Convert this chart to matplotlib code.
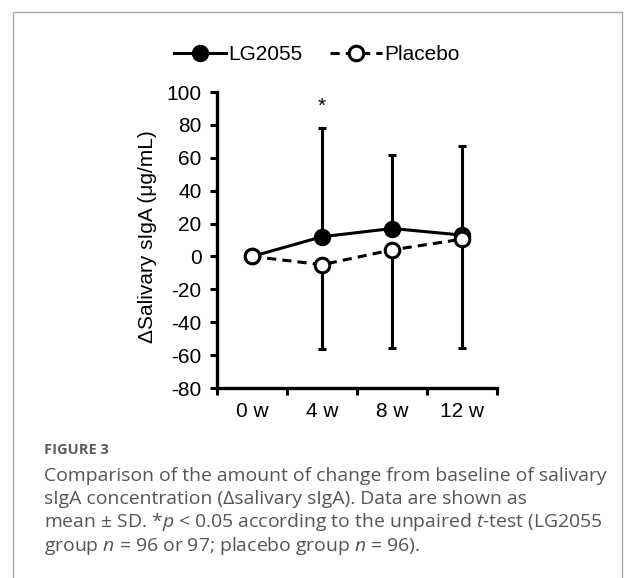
import matplotlib
matplotlib.use("Agg")
import matplotlib.pyplot as plt
import numpy as np

# data (change from baseline, ug/mL)
weeks = ["0 w", "4 w", "8 w", "12 w"]
lg_mean = [0, 12, 17, 13]
lg_sd = [0, 66, 45, 54]
pl_mean = [0, -5, 4, 10.5]
pl_sd = [0, 51, 59.5, 66]
star_week = 1
star_y = 91

plt.rcParams['font.family'] = ['Liberation Sans', 'DejaVu Sans']
plt.rcParams['axes.unicode_minus'] = False
plt.rcParams['mathtext.fontset'] = 'custom'
plt.rcParams['mathtext.rm'] = 'Open Sans'
plt.rcParams['mathtext.it'] = 'Open Sans:italic'

fig = plt.figure(figsize=(6.25, 5.78), dpi=100)
ax = fig.add_axes([0.3472, 0.3287, 0.448, 0.5121])

x = np.arange(len(weeks))
lw = 2.2
fs = 15

# one-sided SD bars: up for LG2055, down for placebo
ax.errorbar(x, lg_mean, yerr=[np.zeros(len(x)), lg_sd], fmt='none', ecolor='black',
            elinewidth=lw, capsize=3, capthick=lw, zorder=1)
ax.errorbar(x, pl_mean, yerr=[pl_sd, np.zeros(len(x))], fmt='none', ecolor='black',
            elinewidth=lw, capsize=3, capthick=lw, zorder=1)

ax.plot(x, lg_mean, '-o', color='black', lw=lw, ms=10.5, mfc='black', mec='black',
        mew=2, label='LG2055', zorder=3)
ax.plot(x, pl_mean, linestyle=(0, (3, 2)), marker='o', color='black', lw=lw, ms=10.5,
        mfc='white', mec='black', mew=2.2, label='Placebo', zorder=4)

ax.text(x[star_week], star_y, '*', ha='center', va='center', fontsize=fs)

ax.set_xlim(-0.5, len(weeks) - 0.5)
ax.set_ylim(-80, 100)
ax.set_yticks(np.arange(-80, 101, 20))
ax.set_xticks(x)
ax.set_xticklabels(weeks)
ax.set_xticks(np.arange(-0.5, len(weeks), 1), minor=True)
ax.tick_params(axis='x', which='major', length=0, pad=10, labelsize=fs)
ax.tick_params(axis='x', which='minor', length=5, width=2.2, direction='out')
ax.tick_params(axis='y', length=5, width=2.2, direction='out', pad=6, labelsize=fs)

for s in ['top', 'right']:
    ax.spines[s].set_visible(False)
for s in ['left', 'bottom']:
    ax.spines[s].set_linewidth(2.4)

ax.set_ylabel('ΔSalivary sIgA (μg/mL)', fontsize=fs)
ax.yaxis.set_label_coords(-0.214, 0.512)

fig.legend(loc='center', bbox_to_anchor=(0.507, 0.905), ncol=2, frameon=False,
           fontsize=fs, handlelength=2.5, handletextpad=0.1, columnspacing=1.3,
           borderaxespad=0)

# caption panel
border = '#aaaaaa'
fig.add_artist(plt.Line2D([0.02, 0.02, 0.9952, 0.9952], [0, 0.9784, 0.9784, 0],
                          transform=fig.transFigure, color=border, lw=1))

cap = '#555555'
fig.text(44 / 625, 1 - 450 / 578, 'FIGURE 3', fontsize=10.5, fontweight='bold',
         color='#5e5e5e', family='Open Sans', va='center')
lines = [
    'Comparison of the amount of change from baseline of salivary',
    'sIgA concentration (Δsalivary sIgA). Data are shown as',
    'mean ± SD. *$p$ < 0.05 according to the unpaired $t$-test (LG2055',
    'group $n$ = 96 or 97; placebo group $n$ = 96).',
]
for i, t in enumerate(lines):
    fig.text(44 / 625, 1 - (476 + 23.2 * i) / 578, t, fontsize=13.95, color=cap,
             family='Open Sans', va='center')

fig.savefig('out.png', dpi=100)
